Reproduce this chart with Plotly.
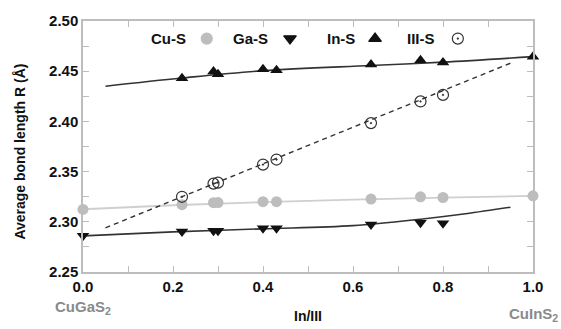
import plotly.graph_objects as go

# Composition (In/III ratio) of each sample
x_pts = [0.22, 0.29, 0.30, 0.40, 0.43, 0.64, 0.75, 0.80]

# Average bond lengths (Å)
cus_x = [0.0] + x_pts + [1.0]
cus_y = [2.3123, 2.3170, 2.3190, 2.3192, 2.3200, 2.3200, 2.3226, 2.3249, 2.3242, 2.3259]

gas_x = [0.0] + x_pts
gas_y = [2.2860, 2.2903, 2.2910, 2.2912, 2.2935, 2.2935, 2.2974, 2.2990, 2.2985]

ins_x = x_pts + [1.0]
ins_y = [2.4430, 2.4496, 2.4470, 2.4520, 2.4510, 2.4567, 2.4610, 2.4587, 2.4645]

iiis_x = x_pts
iiis_y = [2.3249, 2.3380, 2.3390, 2.3570, 2.3620, 2.3983, 2.4199, 2.4264]

# Fitted trend curves
cus_fit_x = [0.0, 0.2, 0.4, 0.6, 0.8, 1.0]
cus_fit_y = [2.3125, 2.3165, 2.3195, 2.3220, 2.3240, 2.3259]

gas_fit_x = [0.0, 0.2, 0.4, 0.6, 0.75, 0.85, 0.95]
gas_fit_y = [2.2860, 2.2900, 2.2930, 2.2962, 2.3026, 2.3080, 2.3145]

ins_fit_x = [0.05, 0.22, 0.4, 0.64, 0.8, 1.0]
ins_fit_y = [2.4350, 2.4432, 2.4505, 2.4557, 2.4590, 2.4645]

vegard_x = [0.05, 0.95]
vegard_y = [2.2940, 2.4580]

# Legend entries (label first, symbol after)
legend_labels = ["Cu-S", "Ga-S", "In-S", "III-S"]
legend_symbols = ["circle", "triangle-down", "triangle-up", "circle-open-dot"]
legend_colors = ["#bdbdbd", "#111111", "#111111", "#333333"]
legend_text_x = [0.233, 0.416, 0.609, 0.787]
legend_mark_x = [0.275, 0.460, 0.649, 0.833]
legend_y = 0.930

FONT = "Arial, Liberation Sans, Helvetica, sans-serif"
DARK = "#333333"
AXIS = "#bdbdbd"
MS = 11

fig = go.Figure()

fig.add_trace(go.Scatter(x=cus_fit_x, y=cus_fit_y, mode="lines", line_shape="spline",
                         line=dict(color="#cfcfcf", width=1.8), hoverinfo="skip"))
fig.add_trace(go.Scatter(x=gas_fit_x, y=gas_fit_y, mode="lines", line_shape="spline",
                         line=dict(color=DARK, width=1.6), hoverinfo="skip"))
fig.add_trace(go.Scatter(x=ins_fit_x, y=ins_fit_y, mode="lines", line_shape="spline",
                         line=dict(color=DARK, width=1.6), hoverinfo="skip"))
fig.add_trace(go.Scatter(x=vegard_x, y=vegard_y, mode="lines",
                         line=dict(color=DARK, width=1.4, dash="5px,4px"), hoverinfo="skip"))

fig.add_trace(go.Scatter(x=cus_x, y=cus_y, mode="markers", name="Cu-S", cliponaxis=False,
                         marker=dict(symbol="circle", size=MS, color="#bdbdbd")))
fig.add_trace(go.Scatter(x=gas_x, y=gas_y, mode="markers", name="Ga-S", cliponaxis=False,
                         marker=dict(symbol="triangle-down", size=MS, color="#111111")))
fig.add_trace(go.Scatter(x=ins_x, y=ins_y, mode="markers", name="In-S", cliponaxis=False,
                         marker=dict(symbol="triangle-up", size=MS, color="#111111")))
fig.add_trace(go.Scatter(x=iiis_x, y=iiis_y, mode="markers", name="III-S", cliponaxis=False,
                         marker=dict(symbol="circle-open-dot", size=MS, color=DARK,
                                     line=dict(width=1.2, color=DARK))))

# Legend symbols on an overlay axis spanning the plot area
fig.add_trace(go.Scatter(x=legend_mark_x, y=[legend_y] * 4, xaxis="x2", yaxis="y2",
                         mode="markers", hoverinfo="skip",
                         marker=dict(symbol=legend_symbols, size=MS, color=legend_colors,
                                     line=dict(width=1.2, color=legend_colors))))

annotations = []
for lbl, lx in zip(legend_labels, legend_text_x):
    annotations.append(dict(text=lbl, x=lx, y=legend_y, xref="paper", yref="paper",
                            xanchor="right", yanchor="middle", showarrow=False,
                            font=dict(family=FONT, size=15, color="#111111", weight="bold")))

annotations += [
    dict(text="In/III", x=0.5, y=-0.174, xref="paper", yref="paper",
         xanchor="center", yanchor="middle", showarrow=False,
         font=dict(family=FONT, size=14, color="#111111", weight="bold")),
    dict(text="Average bond length R (Å)", x=-0.142, y=0.48, xref="paper", yref="paper",
         xanchor="center", yanchor="middle", textangle=-90, showarrow=False,
         font=dict(family=FONT, size=14, color="#111111", weight="bold")),
    dict(text="CuGaS<sub>2</sub>", x=0.0, y=-0.14, xref="paper", yref="paper",
         xanchor="center", yanchor="middle", showarrow=False,
         font=dict(family=FONT, size=15, color="#8a8a8a", weight="bold")),
    dict(text="CuInS<sub>2</sub>", x=1.0, y=-0.17, xref="paper", yref="paper",
         xanchor="center", yanchor="middle", showarrow=False,
         font=dict(family=FONT, size=15, color="#8a8a8a", weight="bold")),
]

fig.update_layout(
    width=561, height=329,
    margin=dict(l=83, r=28, t=14, b=57),
    paper_bgcolor="white", plot_bgcolor="white",
    showlegend=False,
    annotations=annotations,
    xaxis=dict(range=[0, 1], dtick=0.2, tickformat=".1f", showgrid=False, zeroline=False,
               showline=True, linecolor=AXIS, linewidth=1.5, mirror="allticks",
               ticks="inside", ticklen=6, tickcolor=AXIS, tickwidth=1.2,
               minor=dict(dtick=0.1, ticks="inside", ticklen=6, tickcolor=AXIS, tickwidth=1.2),
               tickfont=dict(family=FONT, size=15, color="#111111", weight="bold")),
    yaxis=dict(range=[2.25, 2.50], dtick=0.05, tickformat=".2f", showgrid=False, zeroline=False,
               showline=True, linecolor=AXIS, linewidth=1.5, mirror="allticks",
               ticks="inside", ticklen=6, tickcolor=AXIS, tickwidth=1.2,
               minor=dict(dtick=0.025, ticks="inside", ticklen=6, tickcolor=AXIS, tickwidth=1.2),
               tickfont=dict(family=FONT, size=15, color="#111111", weight="bold")),
    xaxis2=dict(range=[0, 1], overlaying="x", visible=False, fixedrange=True),
    yaxis2=dict(range=[0, 1], overlaying="y", visible=False, fixedrange=True),
)

fig.write_html("out.html")
